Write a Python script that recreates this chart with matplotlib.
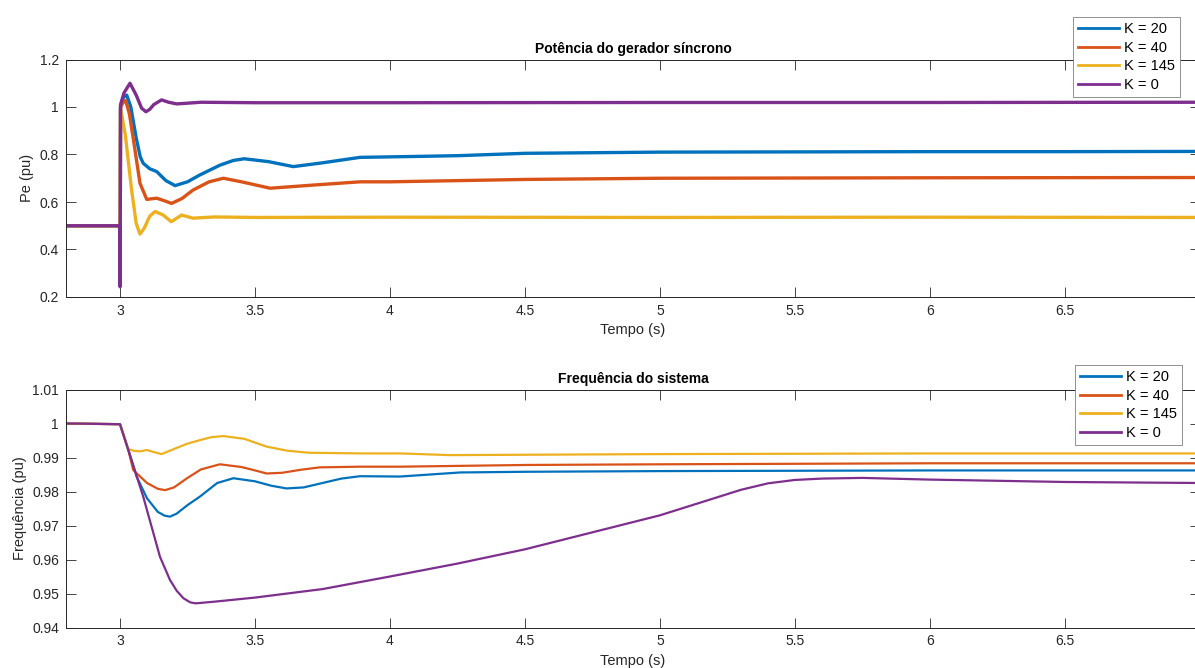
import matplotlib
matplotlib.use("Agg")
import matplotlib.pyplot as plt
from matplotlib.ticker import FormatStrFormatter

plt.rcParams['font.family'] = ['Liberation Sans', 'DejaVu Sans']

labels = ['K = 20', 'K = 40', 'K = 145', 'K = 0']
colors = ['#0072BD', '#D95319', '#EDB120', '#7E2F8E']

# Potencia eletrica (pu)
t_pe_k20 = [2.8, 3.0, 3.0005, 3.002, 3.012, 3.025, 3.04, 3.06, 3.075, 3.086, 3.11, 3.136,
            3.17, 3.204, 3.25, 3.296, 3.37, 3.42, 3.46, 3.55, 3.642, 3.75, 3.889, 4.0,
            4.25, 4.5, 5.0, 5.5, 6.0, 6.5, 7.0]
pe_k20 = [0.5, 0.5, 0.25, 1.0, 1.04, 1.05, 1.0, 0.87, 0.79, 0.763, 0.74, 0.728,
          0.69, 0.669, 0.685, 0.714, 0.755, 0.775, 0.782, 0.77, 0.749, 0.765, 0.788, 0.79,
          0.795, 0.805, 0.81, 0.811, 0.812, 0.812, 0.813]

t_pe_k40 = [2.8, 3.0, 3.0005, 3.002, 3.012, 3.021, 3.035, 3.05, 3.074, 3.099, 3.136, 3.165,
            3.191, 3.23, 3.27, 3.33, 3.383, 3.45, 3.556, 3.7, 3.889, 4.0, 4.5, 5.0, 6.0, 7.0]
pe_k40 = [0.5, 0.5, 0.25, 1.0, 1.02, 1.027, 0.97, 0.86, 0.679, 0.611, 0.616, 0.605,
          0.594, 0.615, 0.65, 0.685, 0.70, 0.685, 0.658, 0.67, 0.685, 0.685, 0.695, 0.70, 0.702, 0.703]

t_pe_k145 = [2.8, 3.0, 3.0005, 3.002, 3.02, 3.043, 3.06, 3.074, 3.09, 3.11, 3.13, 3.16, 3.19,
             3.228, 3.27, 3.35, 3.5, 4.0, 5.0, 6.0, 7.0]
pe_k145 = [0.5, 0.5, 0.25, 0.996, 0.88, 0.65, 0.51, 0.465, 0.49, 0.54, 0.56, 0.545, 0.517,
           0.545, 0.532, 0.537, 0.535, 0.536, 0.535, 0.536, 0.535]

t_pe_k0 = [2.8, 3.0, 3.0005, 3.002, 3.015, 3.037, 3.06, 3.08, 3.096, 3.11, 3.125, 3.154,
           3.18, 3.21, 3.3, 3.5, 4.0, 5.0, 6.0, 7.0]
pe_k0 = [0.5, 0.5, 0.243, 1.01, 1.06, 1.10, 1.05, 0.995, 0.98, 0.99, 1.01, 1.03,
         1.02, 1.013, 1.02, 1.018, 1.018, 1.019, 1.019, 1.02]

# Frequencia do sistema (pu)
t_f_k20 = [2.8, 3.0, 3.03, 3.062, 3.1, 3.14, 3.165, 3.185, 3.21, 3.25, 3.296, 3.36, 3.42,
           3.5, 3.56, 3.617, 3.68, 3.75, 3.82, 3.889, 4.037, 4.26, 4.5, 5.0, 6.0, 7.0]
f_k20 = [1.0, 0.9998, 0.9925, 0.9843, 0.978, 0.974, 0.9729, 0.9726, 0.9735, 0.976, 0.9785, 0.9825, 0.9839,
         0.983, 0.9817, 0.9809, 0.9812, 0.9825, 0.9838, 0.9845, 0.9844, 0.9856, 0.9858, 0.986, 0.9862, 0.9862]

t_f_k40 = [2.8, 3.0, 3.03, 3.049, 3.1, 3.14, 3.167, 3.2, 3.25, 3.3, 3.37, 3.45, 3.5, 3.543,
           3.6, 3.67, 3.74, 3.889, 4.037, 4.5, 5.0, 6.0, 7.0]
f_k40 = [1.0, 0.9998, 0.9925, 0.9863, 0.9825, 0.9808, 0.9804, 0.9812, 0.984, 0.9865, 0.988, 0.9872, 0.9862, 0.9853,
         0.9855, 0.9864, 0.9871, 0.9873, 0.9873, 0.9878, 0.988, 0.9883, 0.9883]

t_f_k145 = [2.8, 3.0, 3.03, 3.049, 3.075, 3.099, 3.13, 3.154, 3.2, 3.247, 3.3, 3.34, 3.383, 3.46,
            3.543, 3.62, 3.70, 3.889, 4.037, 4.222, 5.0, 6.0, 7.0]
f_k145 = [1.0, 0.9998, 0.9925, 0.9920, 0.9918, 0.9922, 0.9915, 0.9910, 0.9925, 0.9940, 0.9952, 0.9960, 0.9963, 0.9955,
          0.9932, 0.9920, 0.9914, 0.9912, 0.9912, 0.9907, 0.991, 0.9912, 0.9912]

t_f_k0 = [2.8, 3.0, 3.086, 3.148, 3.185, 3.21, 3.235, 3.26, 3.28, 3.35, 3.5, 3.75, 4.0,
          4.25, 4.5, 4.75, 5.0, 5.1, 5.2, 5.3, 5.4, 5.5, 5.6, 5.75, 6.0, 6.5, 7.0]
f_k0 = [1.0, 0.9998, 0.9785, 0.9608, 0.954, 0.9508, 0.9486, 0.9474, 0.9471, 0.9476, 0.9488, 0.9513, 0.955,
        0.9588, 0.963, 0.968, 0.973, 0.9755, 0.978, 0.9805, 0.9824, 0.9834, 0.9838, 0.984, 0.9835, 0.9828, 0.9825]

pe_series = [(t_pe_k20, pe_k20), (t_pe_k40, pe_k40), (t_pe_k145, pe_k145), (t_pe_k0, pe_k0)]
f_series = [(t_f_k20, f_k20), (t_f_k40, f_k40), (t_f_k145, f_k145), (t_f_k0, f_k0)]

W, H = 1195, 668
fig = plt.figure(figsize=(W / 100, H / 100), dpi=100)
ax1 = fig.add_axes([66 / W, 1 - 297 / H, (1200 - 66) / W, (297 - 59.5) / H])
ax2 = fig.add_axes([66 / W, 1 - 627.5 / H, (1200 - 66) / W, (627.5 - 389.5) / H])

txt = '#262626'

for (t, y), c, lab in zip(pe_series, colors, labels):
    ax1.plot(t, y, color=c, lw=2.4, label=lab)
for (t, y), c, lab in zip(f_series, colors, labels):
    ax2.plot(t, y, color=c, lw=1.6, label=lab)

ax1.set_ylim(0.2, 1.2)
ax1.set_yticks([0.2, 0.4, 0.6, 0.8, 1.0, 1.2])
ax1.set_title('Potência do gerador síncrono', fontsize=10, fontweight='bold', color='black', pad=5)
ax1.set_ylabel('Pe (pu)', fontsize=10.5, color=txt)

ax2.set_ylim(0.94, 1.01)
ax2.set_yticks([0.94, 0.95, 0.96, 0.97, 0.98, 0.99, 1.0, 1.01])
ax2.set_title('Frequência do sistema', fontsize=10, fontweight='bold', color='black', pad=5)
ax2.set_ylabel('Frequência (pu)', fontsize=10.5, color=txt)

for ax in (ax1, ax2):
    ax.set_xlim(2.8, 7.0)
    ax.set_xticks([3, 3.5, 4, 4.5, 5, 5.5, 6, 6.5])
    ax.xaxis.set_major_formatter(FormatStrFormatter('%g'))
    ax.yaxis.set_major_formatter(FormatStrFormatter('%g'))
    ax.set_xlabel('Tempo (s)', fontsize=10.5, color=txt)
    ax.tick_params(direction='in', length=7.5, width=0.6, top=True, right=True,
                   labelsize=10, colors=txt, pad=5)
    for s in ax.spines.values():
        s.set_linewidth(0.7)
        s.set_color(txt)

leg_kw = dict(loc='upper left', bbox_transform=fig.transFigure, borderaxespad=0,
              fontsize=10.5, frameon=True, fancybox=False, framealpha=1,
              edgecolor='#7f7f7f', handlelength=2.8, labelspacing=0.32,
              borderpad=0.35, handletextpad=0.35)
l1 = ax1.legend(bbox_to_anchor=(1073 / W, 1 - 17 / H), **leg_kw)
l2 = ax2.legend(bbox_to_anchor=(1075 / W, 1 - 365 / H), **leg_kw)
for l in (l1, l2):
    l.get_frame().set_linewidth(0.6)
    for h in l.get_lines():
        h.set_linewidth(2.0)

fig.savefig('out.png', dpi=100)
